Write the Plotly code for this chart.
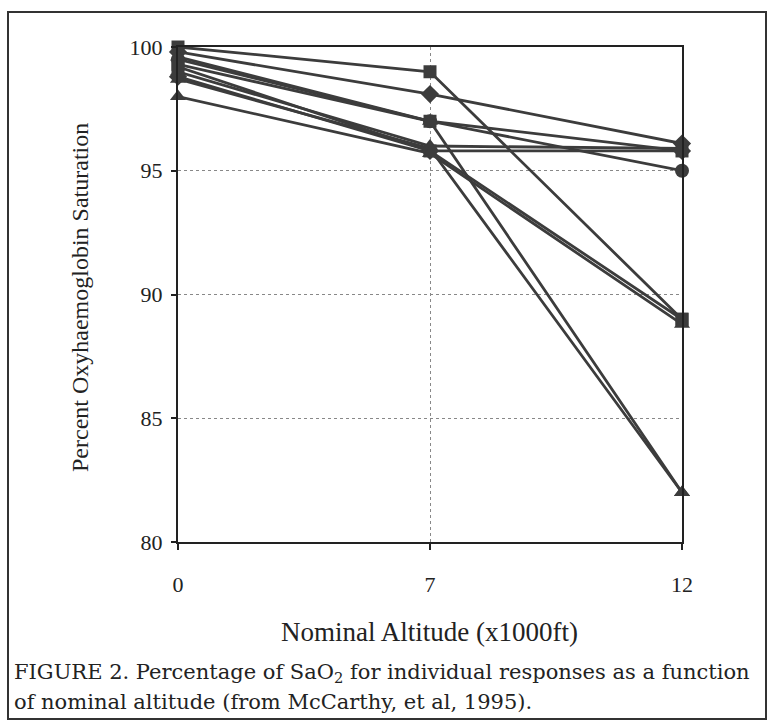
import plotly.graph_objects as go

altitude = ["0", "7", "12"]

s1 = [100.0, 99.0, 89.0]
s2 = [99.8, 98.1, 96.1]
s3 = [99.5, 97.0, 95.0]
s4 = [99.3, 97.0, 95.8]
s5 = [99.0, 96.0, 95.9]
s6 = [98.8, 95.8, 95.8]
s7 = [99.6, 97.0, 82.0]
s8 = [98.7, 95.9, 82.0]
s9 = [99.2, 95.8, 89.0]
s10 = [98.0, 95.7, 88.8]

series = [s1, s2, s3, s4, s5, s6, s7, s8, s9, s10]
symbols = ["square", "diamond", "circle", "square", "triangle-up",
           "diamond", "triangle-up", "triangle-up", "square", "triangle-up"]

INK = "#3c3c3c"
SERIF = "Liberation Serif"
CAP = "DejaVu Serif"

fig = go.Figure()
for vals, sym in zip(series, symbols):
    fig.add_trace(go.Scatter(
        x=altitude, y=vals, mode="lines+markers",
        line=dict(color=INK, width=2.8),
        marker=dict(symbol=sym, size=14 if sym != "square" else 13, color=INK),
        cliponaxis=False, showlegend=False,
    ))

L, R, T, B = 178, 86, 47, 182
W, H = 768, 724
pw, ph = W - L - R, H - T - B


def px(xp):
    return (xp - L) / pw


def py(yp):
    return (H - B - yp) / ph


fig.update_layout(
    width=W, height=H,
    margin=dict(l=L, r=R, t=T, b=B),
    paper_bgcolor="white", plot_bgcolor="white",
    font=dict(family=SERIF, size=21, color="#222"),
    xaxis=dict(
        type="category", range=[0, 2],
        showline=True, linecolor="#222", linewidth=2, mirror=True,
        showgrid=True, gridcolor="#888", griddash="dot", gridwidth=1,
        ticks="outside", ticklen=6, tickcolor="#222", tickwidth=1.5,
        ticklabelstandoff=16,
        tickfont=dict(family=SERIF, size=22, color="#222"),
        zeroline=False,
    ),
    yaxis=dict(
        range=[80, 100], tickvals=[80, 85, 90, 95, 100],
        showline=True, linecolor="#222", linewidth=2, mirror=True,
        showgrid=True, gridcolor="#888", griddash="dot", gridwidth=1,
        ticks="outside", ticklen=5, tickcolor="#222", tickwidth=1.5,
        ticklabelstandoff=4,
        tickfont=dict(family=SERIF, size=22, color="#222"),
        zeroline=False,
    ),
)

annotations = [
    dict(text="Percent Oxyhaemoglobin Saturation", x=px(80), y=py(298),
         textangle=-90, font=dict(family=SERIF, size=24, color="#222")),
    dict(text="Nominal Altitude (x1000ft)", x=px(429), y=py(632),
         font=dict(family=SERIF, size=27, color="#222")),
    dict(text="FIGURE 2. Percentage of SaO<sub>2</sub> for individual responses as a function",
         x=px(12), y=py(673), xanchor="left", align="left",
         font=dict(family=CAP, size=21, color="#222")),
    dict(text="of nominal altitude (from McCarthy, et al, 1995).",
         x=px(12), y=py(702), xanchor="left", align="left",
         font=dict(family=CAP, size=21, color="#222")),
]
for a in annotations:
    a.update(xref="paper", yref="paper", showarrow=False,
             xanchor=a.get("xanchor", "center"), yanchor="middle")
fig.update_layout(annotations=annotations)

fig.add_shape(type="rect", xref="paper", yref="paper",
              x0=px(8), x1=px(766), y0=py(719), y1=py(12),
              line=dict(color="#333", width=2), layer="below")

fig.write_html("out.html", config={"displayModeBar": False},
               post_script="document.body.style.margin='0px';")
